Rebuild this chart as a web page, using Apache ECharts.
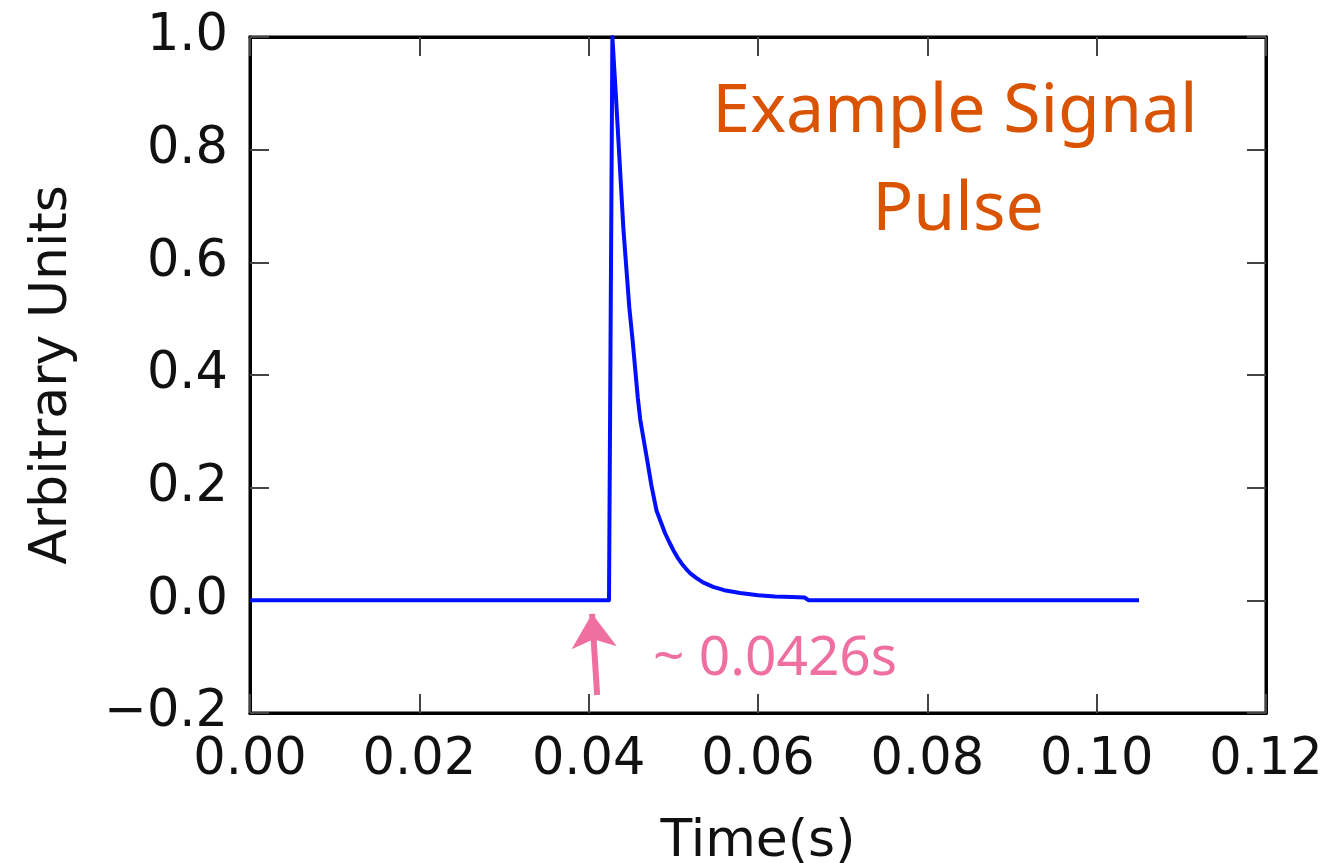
<!DOCTYPE html>
<html>
<head>
<meta charset="utf-8">
<script src="https://cdn.jsdelivr.net/npm/echarts@6/dist/echarts.min.js"></script>
<style>
html,body{margin:0;padding:0;background:#fff;overflow:hidden;}
#chart{width:1339px;height:863px;}
</style>
</head>
<body>
<div id="chart"></div>
<script>
// Data
var timeValues = [0, 0.0424, 0.0428, 0.0432, 0.0435, 0.0438, 0.0441, 0.0445, 0.0448, 0.0452, 0.0455, 0.0458, 0.0461, 0.0465, 0.0469, 0.0474, 0.0480, 0.0485, 0.0490, 0.0495, 0.0500, 0.0505, 0.0510, 0.0515, 0.0520, 0.0527, 0.0535, 0.0547, 0.0560, 0.0579, 0.0600, 0.0620, 0.0640, 0.0655, 0.0660, 0.1050];
var signalValues = [0, 0, 1.0, 0.90, 0.82, 0.74, 0.66, 0.58, 0.52, 0.46, 0.41, 0.36, 0.32, 0.285, 0.25, 0.205, 0.16, 0.14, 0.12, 0.104, 0.089, 0.076, 0.065, 0.056, 0.048, 0.040, 0.032, 0.024, 0.018, 0.013, 0.009, 0.007, 0.006, 0.005, 0.0, 0.0];
var xTicks = [0.00, 0.02, 0.04, 0.06, 0.08, 0.10, 0.12];
var yTicks = [-0.2, 0.0, 0.2, 0.4, 0.6, 0.8, 1.0];
var arrowStart = [0.0410, -0.168];
var arrowEnd = [0.0404, -0.024];
var titleLines = ['Example Signal', 'Pulse'];
var arrivalLabel = '~ 0.0426s';
var xName = 'Time(s)';
var yName = 'Arbitrary Units';

var seriesData = timeValues.map(function (t, i) { return [t, signalValues[i]]; });

var chart = echarts.init(document.getElementById('chart'), null, {renderer: 'canvas'});
var tickFont = 'DejaVu Sans';
var xInterval = xTicks[1] - xTicks[0];
var yInterval = yTicks[1] - yTicks[0];

function fmtY(v) {
  var s = (Math.round(v * 10) / 10).toFixed(1);
  return s.replace('-', '\u2212');
}
function fmtX(v) { return (Math.round(v * 100) / 100).toFixed(2); }

var tickStyle = {show: true, inside: true, length: 19, lineStyle: {color: '#444', width: 2}};
var lineStyleAxis = {show: true, onZero: false, lineStyle: {color: '#000', width: 3}};

var option = {
  backgroundColor: '#ffffff',
  animation: false,
  grid: {left: 250, top: 37, width: 1016, height: 676, containLabel: false, outerBoundsMode: 'none', show: true, borderColor: '#000', borderWidth: 3, backgroundColor: 'transparent'},
  xAxis: [{
    type: 'value', min: xTicks[0], max: xTicks[xTicks.length - 1], interval: xInterval,
    position: 'bottom',
    name: xName, nameLocation: 'middle', nameGap: 103,
    nameTextStyle: {fontFamily: tickFont, fontSize: 52, color: '#111'},
    axisLine: lineStyleAxis,
    axisTick: tickStyle,
    axisLabel: {show: true, fontFamily: tickFont, fontSize: 51, color: '#111', margin: 22, formatter: fmtX},
    splitLine: {show: false}
  }, {
    type: 'value', min: xTicks[0], max: xTicks[xTicks.length - 1], interval: xInterval,
    position: 'top',
    axisLine: lineStyleAxis,
    axisTick: tickStyle,
    axisLabel: {show: false},
    splitLine: {show: false}
  }],
  yAxis: [{
    type: 'value', min: yTicks[0], max: yTicks[yTicks.length - 1], interval: yInterval,
    position: 'left',
    name: yName, nameLocation: 'middle', nameGap: 172, nameRotate: 90,
    nameTextStyle: {fontFamily: tickFont, fontSize: 52, color: '#111'},
    axisLine: lineStyleAxis,
    axisTick: tickStyle,
    axisLabel: {show: true, fontFamily: tickFont, fontSize: 51, color: '#111', margin: 22, padding: [0, 0, 8, 0], formatter: fmtY},
    splitLine: {show: false}
  }, {
    type: 'value', min: yTicks[0], max: yTicks[yTicks.length - 1], interval: yInterval,
    position: 'right',
    axisLine: lineStyleAxis,
    axisTick: tickStyle,
    axisLabel: {show: false},
    splitLine: {show: false}
  }],
  series: [{
    type: 'line',
    data: seriesData,
    xAxisIndex: 0, yAxisIndex: 0,
    showSymbol: false,
    symbol: 'none',
    clip: false,
    lineStyle: {color: '#0010ff', width: 4, join: 'round'},
    markLine: {
      silent: true,
      symbol: ['none', 'arrow'],
      symbolSize: [34, 34],
      label: {show: false},
      lineStyle: {color: '#ee6fa0', width: 6, type: 'solid'},
      data: [[{coord: arrowStart}, {coord: arrowEnd}]]
    }
  }],
  graphic: [
    {type: 'text', z: 10, style: {text: titleLines[0], x: 955, y: 113, align: 'center', verticalAlign: 'middle', font: '68px "Comic Sans MS", "Noto Sans", sans-serif', fill: '#d95300'}},
    {type: 'text', z: 10, style: {text: titleLines[1], x: 958, y: 211, align: 'center', verticalAlign: 'middle', font: '68px "Comic Sans MS", "Noto Sans", sans-serif', fill: '#d95300'}},
    {type: 'text', z: 10, style: {text: arrivalLabel, x: 653, y: 659, align: 'left', verticalAlign: 'middle', font: '55px "Comic Sans MS", "Noto Sans", sans-serif', fill: '#ee6fa0'}}
  ]
};
chart.setOption(option);
</script>
</body>
</html>
